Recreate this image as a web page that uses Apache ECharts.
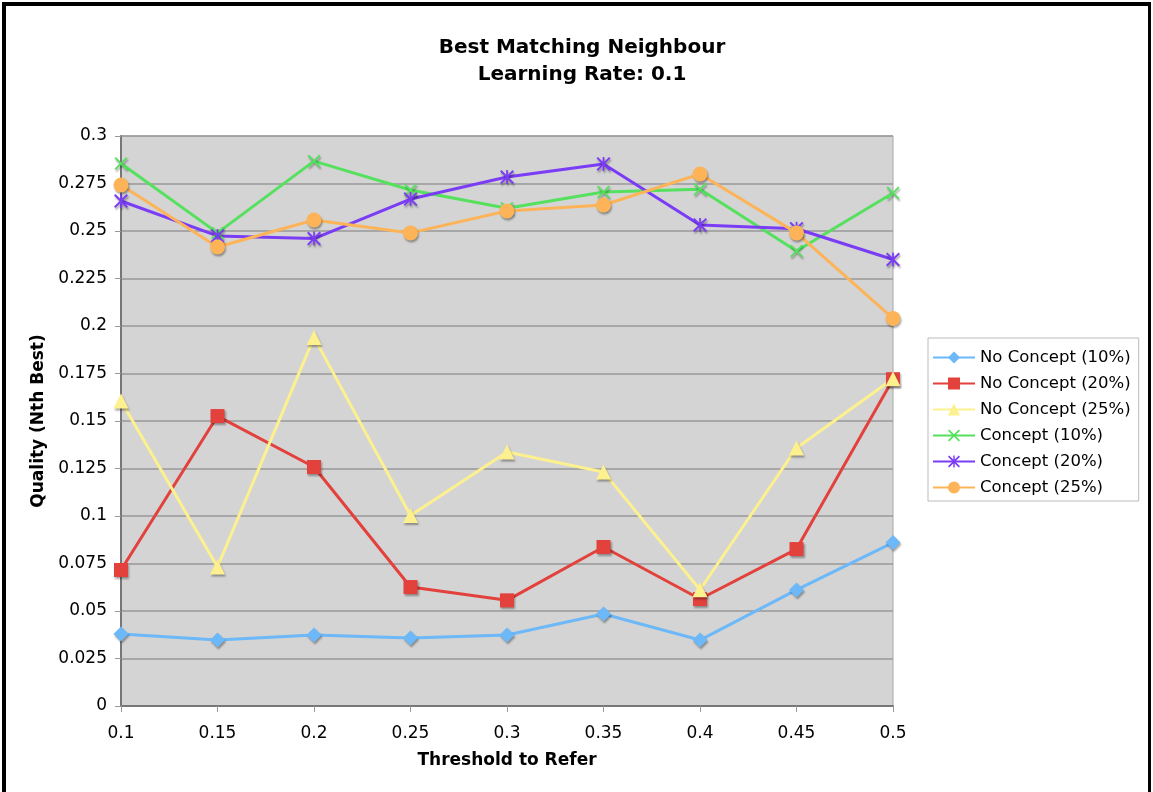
<!DOCTYPE html>
<html>
<head>
<meta charset="utf-8">
<script src="https://cdn.jsdelivr.net/npm/echarts@6/dist/echarts.min.js"></script>
<style>
	html, body { margin: 0; padding: 0; background: #fff; }
	#chart { width: 1153px; height: 792px; }
</style>
</head>
<body>
<div id="chart"></div>
<script>
// -------------------------
// Best Matching Neighbour chart
// -------------------------

// Thresholds (x axis)
const thresholds = ['0.1', '0.15', '0.2', '0.25', '0.3', '0.35', '0.4', '0.45', '0.5'];

// Series values
const noConcept10 = [0.0379, 0.0347, 0.0374, 0.0358, 0.0374, 0.0484, 0.0347, 0.0611, 0.0860];
const noConcept20 = [0.0716, 0.1526, 0.1258, 0.0626, 0.0556, 0.0837, 0.0563, 0.0826, 0.1720];
const noConcept25 = [0.1605, 0.0732, 0.1940, 0.1003, 0.1337, 0.1232, 0.0612, 0.1358, 0.1722];
const concept10   = [0.2855, 0.2490, 0.2868, 0.2716, 0.2620, 0.2705, 0.2720, 0.2395, 0.2700];
const concept20   = [0.2658, 0.2474, 0.2460, 0.2668, 0.2784, 0.2853, 0.2532, 0.2512, 0.2350];
const concept25   = [0.2742, 0.2416, 0.2558, 0.2490, 0.2605, 0.2637, 0.2800, 0.2490, 0.2040];

const yTicks = [0, 0.025, 0.05, 0.075, 0.1, 0.125, 0.15, 0.175, 0.2, 0.225, 0.25, 0.275, 0.3];

// Marker shapes
const xMark = 'path://M0,1L1,0L5,4L9,0L10,1L6,5L10,9L9,10L5,6L1,10L0,9L4,5Z';
const starMark = 'path://M0,1L1,0L5,4L9,0L10,1L6,5L10,9L9,10L5,6L1,10L0,9L4,5Z M4.4,0L5.6,0L5.6,10L4.4,10Z';

const font = '"DejaVu Sans", Verdana, sans-serif';

function makeSeries(name, data, color, symbol, size) {
	return {
		name: name,
		type: 'line',
		data: data,
		symbol: symbol,
		symbolSize: size,
		showAllSymbol: true,
		lineStyle: { color: color, width: 3 },
		itemStyle: {
			color: color,
			shadowColor: 'rgba(0,0,0,0.35)',
			shadowBlur: 2,
			shadowOffsetX: 1,
			shadowOffsetY: 2
		},
		emphasis: { disabled: true },
		z: 3
	};
}

const chart = echarts.init(document.getElementById('chart'), null, { renderer: 'canvas' });

const option = {
	animation: false,
	backgroundColor: '#ffffff',
	textStyle: { fontFamily: font },
	title: {
		text: 'Best Matching Neighbour\nLearning Rate: 0.1',
		left: 577,
		top: 29,
		textAlign: 'center',
		textStyle: {
			fontFamily: font,
			fontSize: 20,
			fontWeight: 'bold',
			color: '#000',
			lineHeight: 27
		}
	},
	legend: {
		orient: 'vertical',
		left: 928,
		top: 338,
		padding: [11, 8, 5, 4],
		itemGap: 9,
		itemWidth: 42,
		itemHeight: 15,
		backgroundColor: '#ffffff',
		borderColor: '#bbbbbb',
		borderWidth: 1,
		textStyle: { fontFamily: font, fontSize: 16.5, color: '#000' },
		data: ['No Concept (10%)', 'No Concept (20%)', 'No Concept (25%)', 'Concept (10%)', 'Concept (20%)', 'Concept (25%)']
	},
	grid: {
		left: 121,
		right: 260,
		top: 136,
		bottom: 86,
		show: true,
		backgroundColor: '#d4d4d4',
		borderColor: '#a8a8a8',
		borderWidth: 1
	},
	xAxis: {
		type: 'category',
		data: thresholds,
		boundaryGap: false,
		name: 'Threshold to Refer',
		nameLocation: 'middle',
		nameGap: 46,
		nameTextStyle: { fontFamily: font, fontSize: 17, fontWeight: 'bold', color: '#000' },
		axisLine: { lineStyle: { color: '#777', width: 2 } },
		axisTick: { show: true, length: 6, lineStyle: { color: '#999' } },
		axisLabel: { fontFamily: font, fontSize: 17, color: '#000', margin: 19 },
		splitLine: { show: false }
	},
	yAxis: {
		type: 'value',
		min: 0,
		max: 0.3,
		interval: 0.025,
		name: 'Quality (Nth Best)',
		nameLocation: 'middle',
		nameGap: 70,
		nameRotate: 90,
		nameTextStyle: { fontFamily: font, fontSize: 17, fontWeight: 'bold', color: '#000' },
		axisLine: { show: true, lineStyle: { color: '#777', width: 2 } },
		axisTick: { show: true, length: 6, lineStyle: { color: '#999' } },
		axisLabel: {
			fontFamily: font,
			fontSize: 17,
			color: '#000',
			margin: 14,
			formatter: v => {
				const t = yTicks.find(k => Math.abs(k - v) < 1e-9);
				return t === undefined ? '' : String(t);
			}
		},
		splitLine: { show: true, lineStyle: { color: '#999', width: 1.5 } }
	},
	graphic: [
		{ type: 'rect', shape: { x: 2, y: 2, width: 4, height: 790 }, style: { fill: '#000' } },
		{ type: 'rect', shape: { x: 2, y: 2, width: 1149, height: 4 }, style: { fill: '#000' } },
		{ type: 'rect', shape: { x: 1148, y: 2, width: 3, height: 790 }, style: { fill: '#000' } }
	],
	series: [
		makeSeries('No Concept (10%)', noConcept10, '#6cb8f8', 'diamond', 15),
		makeSeries('No Concept (20%)', noConcept20, '#e2413c', 'rect', 14),
		makeSeries('No Concept (25%)', noConcept25, '#fdf08e', 'triangle', 15),
		makeSeries('Concept (10%)', concept10, '#55e05e', xMark, 13),
		makeSeries('Concept (20%)', concept20, '#7b3cf5', starMark, 14),
		makeSeries('Concept (25%)', concept25, '#fdb458', 'circle', 15)
	]
};

chart.setOption(option);
</script>
</body>
</html>
